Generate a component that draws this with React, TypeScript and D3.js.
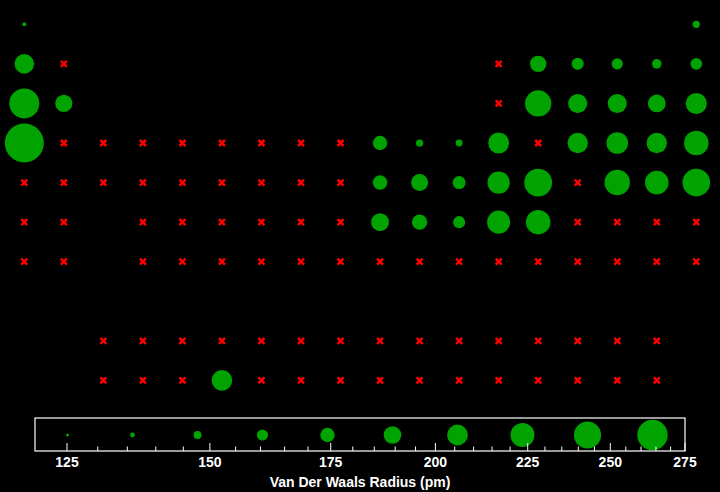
import React from "react";
import * as d3 from "d3";

// Element symbols, periodic-table row (1-7 main, 9 lanthanides, 10 actinides), column (group)
const symbols = [
  "H","He",
  "Li","Be","B","C","N","O","F","Ne",
  "Na","Mg","Al","Si","P","S","Cl","Ar",
  "K","Ca","Sc","Ti","V","Cr","Mn","Fe","Co","Ni","Cu","Zn","Ga","Ge","As","Se","Br","Kr",
  "Rb","Sr","Y","Zr","Nb","Mo","Tc","Ru","Rh","Pd","Ag","Cd","In","Sn","Sb","Te","I","Xe",
  "Cs","Ba","Hf","Ta","W","Re","Os","Ir","Pt","Au","Hg","Tl","Pb","Bi","Po","At","Rn",
  "Fr","Ra","Rf","Db","Sg","Bh","Hs","Mt","Ds","Rg","Cn","Nh","Fl","Mc","Lv","Ts","Og",
  "La","Ce","Pr","Nd","Pm","Sm","Eu","Gd","Tb","Dy","Ho","Er","Tm","Yb","Lu",
  "Ac","Th","Pa","U","Np","Pu","Am","Cm","Bk","Cf","Es","Fm","Md","No","Lr",
];

const rows = [
  1,1,
  2,2,2,2,2,2,2,2,
  3,3,3,3,3,3,3,3,
  4,4,4,4,4,4,4,4,4,4,4,4,4,4,4,4,4,4,
  5,5,5,5,5,5,5,5,5,5,5,5,5,5,5,5,5,5,
  6,6,6,6,6,6,6,6,6,6,6,6,6,6,6,6,6,
  7,7,7,7,7,7,7,7,7,7,7,7,7,7,7,7,7,
  9,9,9,9,9,9,9,9,9,9,9,9,9,9,9,
  10,10,10,10,10,10,10,10,10,10,10,10,10,10,10,
];

const cols = [
  1,18,
  1,2,13,14,15,16,17,18,
  1,2,13,14,15,16,17,18,
  1,2,3,4,5,6,7,8,9,10,11,12,13,14,15,16,17,18,
  1,2,3,4,5,6,7,8,9,10,11,12,13,14,15,16,17,18,
  1,2,4,5,6,7,8,9,10,11,12,13,14,15,16,17,18,
  1,2,4,5,6,7,8,9,10,11,12,13,14,15,16,17,18,
  3,4,5,6,7,8,9,10,11,12,13,14,15,16,17,
  3,4,5,6,7,8,9,10,11,12,13,14,15,16,17,
];

// Van der Waals radius in pm (null = not available)
const N = null;
const radii: (number | null)[] = [
  120,140,
  182,N,N,170,155,152,147,154,
  227,173,N,210,180,180,175,188,
  275,N,N,N,N,N,N,N,N,163,140,139,187,N,185,190,185,202,
  N,N,N,N,N,N,N,N,N,163,172,158,193,217,N,206,198,216,
  N,N,N,N,N,N,N,N,175,166,155,196,202,N,N,N,N,
  N,N,N,N,N,N,N,N,N,N,N,N,N,N,N,N,N,
  N,N,N,N,N,N,N,N,N,N,N,N,N,N,N,
  N,N,N,186,N,N,N,N,N,N,N,N,N,N,N,
];

const radiusDomain = [120, 275];
const axisTicks = d3.range(125, 276, 5);
const legendCount = 10;

const W = 720;
const H = 492;
const GREEN = "#00a300";
const RED = "#ff0000";

export default function App() {
  if (typeof document !== "undefined") {
    document.body.style.margin = "0";
    document.body.style.background = "#000";
  }
  const xCol = d3.scaleLinear().domain([1, 18]).range([24.3, 696.3]);
  const yRow = d3.scaleLinear().domain([1, 10]).range([24.3, 380.4]);
  const rScale = d3.scaleLog().domain(radiusDomain).range([0, 19.5]);
  const legendR = d3.scaleLog().domain(radiusDomain).range([0, 16]);
  const legX = d3.scaleLog().domain(radiusDomain).range([35, 685]);
  const legTop = 418;
  const legBottom = 451;
  const legMid = 435;
  const legendVals = d3.range(legendCount).map((i) =>
    legX.invert(legX.range()[0] + ((legX.range()[1] - legX.range()[0]) * (i + 0.5)) / legendCount)
  );

  const els = symbols.map((s, i) => ({ s, row: rows[i], col: cols[i], r: radii[i] }));

  return (
    <svg width={W} height={H} style={{ position: "absolute", left: 0, top: 0, background: "#000", display: "block" }}
      fontFamily="'Liberation Sans', Arial, Helvetica, sans-serif">
      <rect x={0} y={0} width={W} height={H} fill="#000" />
      <g>
        {els.map((e) =>
          e.r != null ? (
            <circle key={e.s} cx={xCol(e.col)} cy={yRow(e.row)} r={Math.max(2, rScale(e.r))} fill={GREEN}>
              <title>{`${e.s}: ${e.r} pm`}</title>
            </circle>
          ) : (
            <path key={e.s} transform={`translate(${xCol(e.col)},${yRow(e.row)})`}
              d="M-3,-3L3,3M-3,3L3,-3" stroke={RED} strokeWidth={2.5} fill="none">
              <title>{e.s}</title>
            </path>
          )
        )}
      </g>
      <g>
        <rect x={legX.range()[0]} y={legTop} width={legX.range()[1] - legX.range()[0]} height={legBottom - legTop}
          fill="none" stroke="#fff" strokeWidth={1.2} />
        {legendVals.map((v, i) => (
          <circle key={i} cx={legX(v)} cy={legMid} r={Math.max(1.5, legendR(v))} fill={GREEN} />
        ))}
        {axisTicks.map((t) => {
          const major = t % 25 === 0;
          return (
            <line key={t} x1={legX(t)} x2={legX(t)} y1={legBottom} y2={legBottom - (major ? 8 : 4.5)}
              stroke="#fff" strokeWidth={1} />
          );
        })}
        {axisTicks.filter((t) => t % 25 === 0).map((t) => (
          <text key={t} x={legX(t)} y={466.5} fill="#fff" fontSize={14} fontWeight="bold" textAnchor="middle">
            {t}
          </text>
        ))}
        <text x={360} y={486.5} fill="#fff" fontSize={14} fontWeight="bold" textAnchor="middle">
          Van Der Waals Radius (pm)
        </text>
      </g>
    </svg>
  );
}
